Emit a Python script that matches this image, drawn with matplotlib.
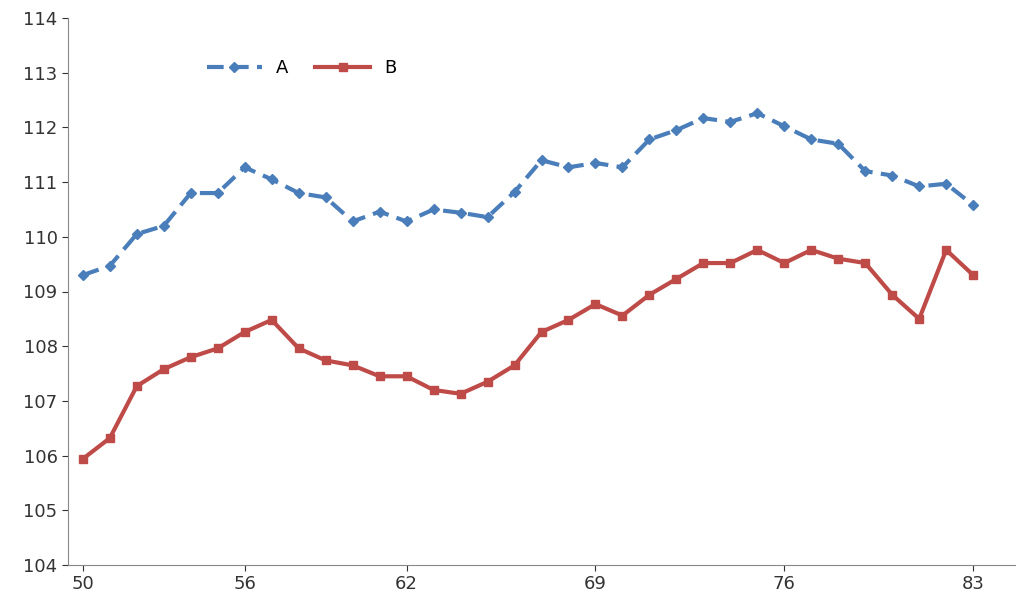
import matplotlib
matplotlib.use("Agg")
import matplotlib.pyplot as plt

x = list(range(50, 84))
a = [109.3,109.47,110.05,110.2,110.8,110.8,111.27,111.05,110.8,110.72,110.28,110.46,110.28,110.5,110.44,110.36,
     110.82,111.4,111.27,111.35,111.27,111.78,111.95,112.17,112.1,112.26,112.02,111.78,111.7,111.2,111.12,110.92,110.97,110.58]
b = [105.94,106.32,107.27,107.58,107.8,107.96,108.26,108.48,107.96,107.74,107.65,107.45,107.45,107.2,107.13,107.35,
     107.65,108.26,108.48,108.77,108.56,108.94,109.23,109.52,109.52,109.76,109.52,109.76,109.6,109.52,108.94,108.5,109.76,109.3]
xticks = [50, 56, 62, 69, 76, 83]

fig = plt.figure(figsize=(10.24, 6.08), dpi=100)
ax = fig.add_axes([68/1024, 43/608, 947/1024, 547/608])
ax.plot(x, a, color="#4a7ebb", ls=(0, (4, 2)), lw=3, marker="D", ms=5, label="A")
ax.plot(x, b, color="#be4b48", lw=3, marker="s", ms=6, label="B")
ax.set_xlim(49.45, 84.55)
ax.set_ylim(104, 114)
ax.set_yticks(range(104, 115))
ax.set_xticks(xticks)
ax.tick_params(labelsize=13, colors="#333333", length=4)
for s in ["top", "right"]:
    ax.spines[s].set_visible(False)
for s in ["left", "bottom"]:
    ax.spines[s].set_color("#888888")
ax.legend(loc="upper left", bbox_to_anchor=(0.13, 0.955), ncol=2, frameon=False, fontsize=13,
          handlelength=3, columnspacing=1.5)
fig.savefig("out.png", dpi=100)
